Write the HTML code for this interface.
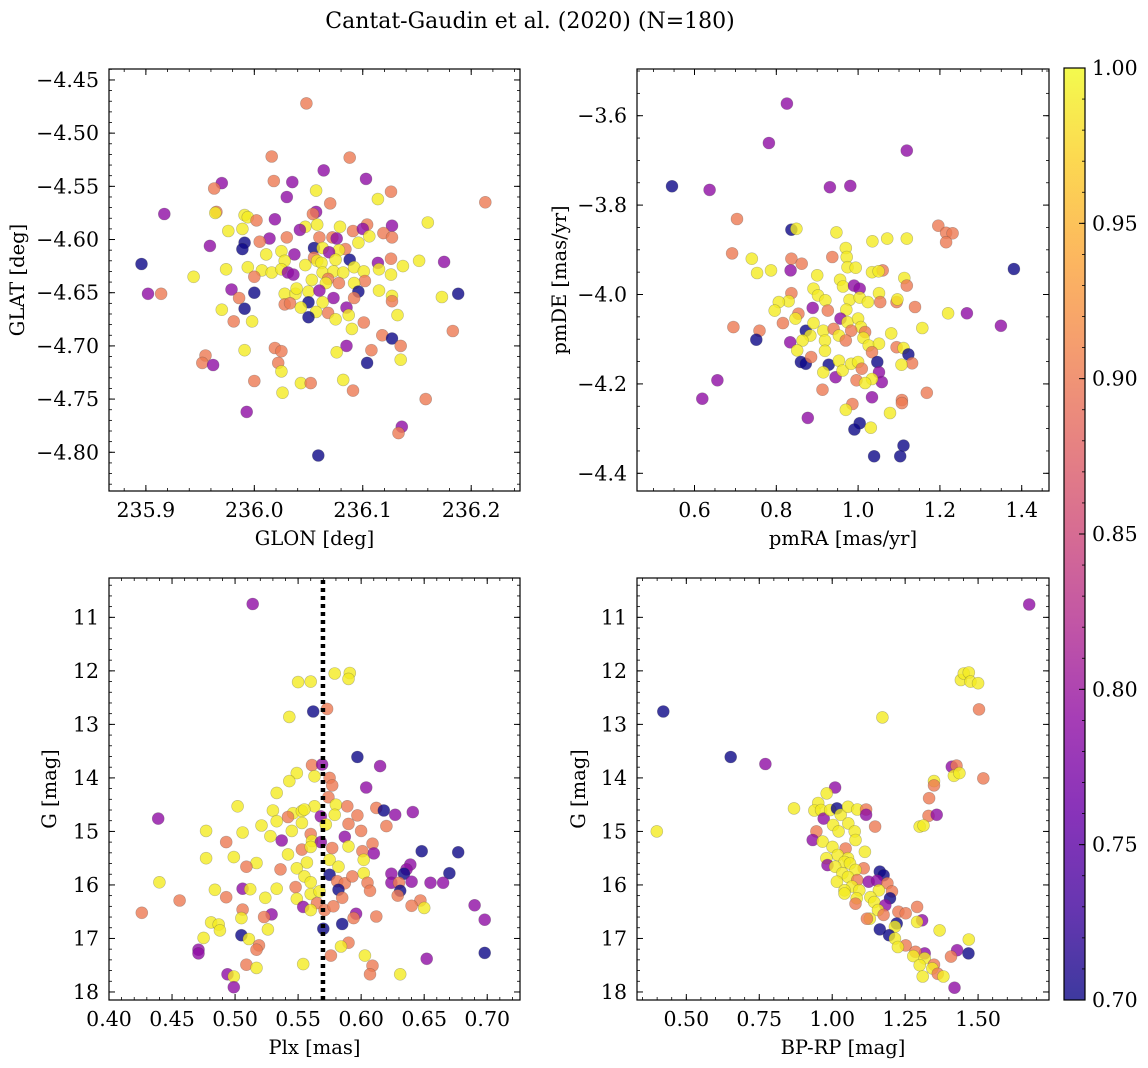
<!DOCTYPE html>
<html><head><meta charset="utf-8"><style>
body{margin:0;background:#fff;}
svg{display:block;font-family:"DejaVu Serif","Liberation Serif",serif;}
</style></head><body>
<svg id="fig" width="1148" height="1068" viewBox="0 0 1148 1068" xmlns="http://www.w3.org/2000/svg">
<defs>
<linearGradient id="cbgrad" x1="0" y1="1" x2="0" y2="0">
<stop offset="0" stop-color="#0d0887"/><stop offset="0.1" stop-color="#41049d"/><stop offset="0.2" stop-color="#6a00a8"/><stop offset="0.3" stop-color="#8f0da4"/><stop offset="0.4" stop-color="#b12a90"/><stop offset="0.5" stop-color="#cc4778"/><stop offset="0.6" stop-color="#e16462"/><stop offset="0.7" stop-color="#f2844b"/><stop offset="0.8" stop-color="#fca636"/><stop offset="0.9" stop-color="#fcce25"/><stop offset="1" stop-color="#f0f921"/>
</linearGradient>
</defs>
<text x="530" y="28" font-size="22" text-anchor="middle">Cantat-Gaudin et al. (2020) (N=180)</text>
</svg>
<script>
// ---- data: top-left (GLON / GLAT)
const tlLon=[236.048,236.016,236.088,236.064,236.103,236.018,236.035,235.970,235.963,236.057,236.126,236.114,236.030,236.070,236.213,235.965,235.964,235.917,236.057,236.054,235.991,235.994,236.019,236.002,236.160,236.047,236.058,236.127,235.976,235.989,236.042,236.104,236.091,236.100,236.079,236.119,236.127,236.106,236.096,236.014,236.005,236.030,236.060,236.072,236.076,235.991,235.989,235.959,236.055,236.063,236.084,236.078,236.025,236.011,236.037,236.069,236.055,236.028,236.058,236.075,236.088,236.114,236.126,236.152,236.175,235.896,235.944,235.974,235.994,236.007,236.016,236.025,236.031,236.036,236.047,236.062,236.063,236.073,236.082,236.092,236.101,236.115,236.126,236.137,236.000,236.068,236.078,236.102,236.053,236.066,236.092,235.979,236.000,235.902,235.914,236.028,236.038,236.039,236.050,236.060,236.096,236.115,236.127,236.173,236.188,235.986,236.073,236.092,236.127,236.028,236.033,236.050,236.063,235.991,235.970,236.043,236.085,236.057,236.068,236.087,236.132,236.050,236.075,235.981,235.998,236.101,236.090,236.183,236.118,236.127,236.135,236.085,236.019,236.025,236.108,235.991,236.076,235.955,235.952,235.962,236.022,236.104,236.135,236.025,236.000,236.082,236.043,236.052,236.091,236.026,236.158,235.993,236.136,236.133,236.059];
const tlLat=[-4.472,-4.522,-4.523,-4.535,-4.543,-4.545,-4.546,-4.547,-4.552,-4.554,-4.555,-4.562,-4.560,-4.566,-4.565,-4.574,-4.575,-4.576,-4.574,-4.576,-4.577,-4.579,-4.581,-4.582,-4.584,-4.588,-4.586,-4.587,-4.592,-4.590,-4.591,-4.586,-4.592,-4.590,-4.588,-4.594,-4.598,-4.597,-4.603,-4.599,-4.602,-4.598,-4.598,-4.598,-4.599,-4.603,-4.609,-4.606,-4.608,-4.608,-4.609,-4.610,-4.611,-4.614,-4.614,-4.612,-4.617,-4.620,-4.620,-4.619,-4.619,-4.622,-4.618,-4.620,-4.621,-4.623,-4.635,-4.628,-4.626,-4.629,-4.631,-4.628,-4.631,-4.633,-4.624,-4.622,-4.631,-4.630,-4.631,-4.626,-4.630,-4.628,-4.633,-4.625,-4.635,-4.637,-4.641,-4.639,-4.638,-4.641,-4.641,-4.647,-4.650,-4.651,-4.651,-4.651,-4.651,-4.646,-4.649,-4.648,-4.649,-4.648,-4.653,-4.654,-4.651,-4.655,-4.655,-4.655,-4.658,-4.661,-4.660,-4.659,-4.659,-4.665,-4.666,-4.664,-4.664,-4.668,-4.669,-4.671,-4.671,-4.673,-4.675,-4.677,-4.677,-4.678,-4.684,-4.686,-4.690,-4.693,-4.700,-4.700,-4.702,-4.705,-4.704,-4.704,-4.706,-4.709,-4.716,-4.718,-4.716,-4.716,-4.713,-4.724,-4.733,-4.732,-4.735,-4.735,-4.742,-4.744,-4.750,-4.762,-4.776,-4.782,-4.803];
const tlProb=[0.9,0.9,0.9,0.79,0.79,0.9,0.79,0.79,0.9,0.99,0.9,0.99,0.79,0.9,0.9,0.9,0.99,0.79,0.79,0.9,0.99,0.99,0.79,0.9,0.99,0.99,0.99,0.79,0.99,0.99,0.79,0.9,0.9,0.79,0.99,0.9,0.9,0.99,0.99,0.79,0.9,0.9,0.9,0.9,0.79,0.7,0.7,0.79,0.7,0.99,0.9,0.99,0.99,0.99,0.79,0.79,0.9,0.99,0.99,0.99,0.7,0.79,0.9,0.99,0.79,0.7,0.99,0.99,0.99,0.99,0.99,0.99,0.79,0.79,0.99,0.99,0.99,0.99,0.99,0.99,0.99,0.99,0.99,0.99,0.9,0.9,0.9,0.9,0.99,0.99,0.99,0.79,0.7,0.79,0.9,0.99,0.99,0.99,0.99,0.79,0.7,0.99,0.99,0.99,0.7,0.9,0.79,0.9,0.9,0.9,0.9,0.7,0.99,0.7,0.99,0.99,0.79,0.99,0.9,0.99,0.99,0.7,0.99,0.9,0.99,0.9,0.99,0.9,0.9,0.7,0.9,0.79,0.9,0.9,0.9,0.99,0.99,0.9,0.9,0.79,0.9,0.7,0.99,0.99,0.9,0.99,0.99,0.9,0.9,0.99,0.9,0.79,0.79,0.9,0.7];
// ---- data: top-right (pmRA / pmDE)
const trRa=[0.826,0.782,1.119,0.545,0.637,0.931,0.981,0.704,0.837,0.849,1.196,1.215,1.231,1.215,0.947,1.035,1.071,1.119,0.692,0.740,0.753,0.787,0.837,0.862,0.835,0.937,0.970,0.972,0.974,0.994,0.900,1.034,1.060,1.050,1.381,1.113,1.119,0.956,0.963,0.990,1.004,0.891,0.902,0.920,0.837,0.830,0.806,0.796,0.979,1.004,1.024,1.051,1.054,1.094,1.096,1.139,1.220,1.266,1.349,0.889,0.854,0.926,0.971,0.847,0.816,0.695,0.759,0.751,0.872,0.891,0.915,0.940,0.957,0.974,1.000,1.007,1.017,0.983,1.081,1.157,0.883,0.864,0.834,0.851,0.860,0.872,0.885,0.919,0.953,0.970,1.013,1.026,1.051,1.034,1.094,1.111,1.123,1.132,1.106,0.919,0.928,0.915,0.945,0.953,0.962,0.983,1.000,1.009,1.047,1.051,1.058,1.034,0.996,1.017,0.913,1.168,0.656,0.619,1.034,1.107,1.107,0.986,0.970,1.078,0.877,1.004,0.991,1.031,1.111,1.039,1.103];
const trDe=[-3.573,-3.661,-3.678,-3.758,-3.766,-3.760,-3.757,-3.831,-3.855,-3.853,-3.846,-3.862,-3.863,-3.883,-3.861,-3.881,-3.875,-3.875,-3.908,-3.920,-3.952,-3.946,-3.920,-3.931,-3.946,-3.916,-3.896,-3.916,-3.939,-3.940,-3.957,-3.950,-3.946,-3.948,-3.943,-3.963,-3.980,-3.967,-3.982,-3.980,-3.987,-3.987,-4.002,-4.013,-3.997,-4.015,-4.017,-4.036,-4.012,-4.007,-4.017,-3.997,-4.017,-4.017,-4.011,-4.028,-4.042,-4.042,-4.070,-4.030,-4.043,-4.036,-4.034,-4.054,-4.064,-4.073,-4.081,-4.101,-4.081,-4.064,-4.081,-4.077,-4.054,-4.062,-4.054,-4.073,-4.084,-4.081,-4.087,-4.075,-4.092,-4.103,-4.107,-4.125,-4.151,-4.155,-4.140,-4.103,-4.092,-4.103,-4.097,-4.114,-4.110,-4.129,-4.118,-4.120,-4.134,-4.154,-4.157,-4.126,-4.157,-4.174,-4.185,-4.148,-4.170,-4.155,-4.151,-4.166,-4.151,-4.174,-4.196,-4.189,-4.192,-4.198,-4.213,-4.220,-4.192,-4.233,-4.230,-4.236,-4.243,-4.245,-4.258,-4.265,-4.276,-4.288,-4.302,-4.298,-4.338,-4.362,-4.362];
const trProb=[0.79,0.79,0.79,0.7,0.79,0.79,0.79,0.9,0.7,0.99,0.9,0.9,0.9,0.9,0.99,0.99,0.99,0.99,0.9,0.99,0.99,0.99,0.9,0.9,0.79,0.9,0.99,0.99,0.99,0.99,0.99,0.99,0.9,0.99,0.7,0.99,0.9,0.99,0.99,0.79,0.79,0.99,0.99,0.99,0.9,0.99,0.99,0.99,0.99,0.99,0.99,0.99,0.9,0.9,0.99,0.9,0.99,0.79,0.79,0.79,0.9,0.9,0.99,0.99,0.9,0.9,0.9,0.7,0.7,0.99,0.99,0.9,0.79,0.99,0.99,0.99,0.9,0.9,0.99,0.99,0.99,0.99,0.79,0.99,0.7,0.7,0.9,0.99,0.99,0.9,0.99,0.99,0.99,0.9,0.9,0.99,0.7,0.9,0.99,0.99,0.7,0.99,0.79,0.99,0.99,0.99,0.99,0.9,0.7,0.79,0.79,0.99,0.9,0.99,0.9,0.9,0.79,0.79,0.79,0.9,0.9,0.9,0.99,0.99,0.79,0.7,0.7,0.99,0.7,0.7,0.7];
// ---- data: bottom-left (Plx / G)
const blPlx=[0.514,0.591,0.579,0.590,0.550,0.560,0.573,0.562,0.543,0.597,0.615,0.561,0.569,0.549,0.543,0.563,0.575,0.577,0.604,0.533,0.574,0.502,0.530,0.546,0.553,0.563,0.555,0.580,0.589,0.612,0.618,0.627,0.641,0.597,0.579,0.568,0.439,0.542,0.533,0.553,0.572,0.590,0.477,0.506,0.521,0.545,0.560,0.600,0.620,0.587,0.493,0.528,0.537,0.561,0.568,0.609,0.590,0.477,0.499,0.517,0.542,0.553,0.560,0.577,0.601,0.610,0.602,0.575,0.509,0.557,0.549,0.536,0.582,0.639,0.636,0.575,0.602,0.624,0.634,0.670,0.648,0.677,0.548,0.555,0.560,0.581,0.587,0.593,0.582,0.605,0.607,0.624,0.630,0.640,0.655,0.665,0.631,0.629,0.440,0.506,0.512,0.484,0.493,0.533,0.524,0.560,0.567,0.585,0.549,0.456,0.647,0.650,0.640,0.690,0.565,0.571,0.554,0.560,0.578,0.426,0.506,0.505,0.529,0.523,0.596,0.594,0.612,0.698,0.481,0.487,0.488,0.526,0.585,0.570,0.505,0.475,0.511,0.519,0.517,0.590,0.584,0.471,0.471,0.698,0.576,0.603,0.652,0.509,0.517,0.554,0.609,0.607,0.631,0.494,0.499,0.499];
const blG=[10.75,12.04,12.05,12.15,12.21,12.20,12.71,12.76,12.86,13.61,13.78,13.76,13.75,13.91,14.06,13.97,14.00,14.14,14.18,14.28,14.36,14.53,14.61,14.66,14.62,14.53,14.59,14.50,14.53,14.56,14.61,14.69,14.64,14.70,14.69,14.72,14.76,14.73,14.81,14.84,14.87,14.86,14.99,15.02,14.89,14.99,15.05,14.99,14.90,15.10,15.20,15.09,15.17,15.18,15.20,15.23,15.28,15.50,15.48,15.59,15.43,15.34,15.29,15.31,15.37,15.41,15.53,15.53,15.66,15.58,15.69,15.71,15.66,15.62,15.71,15.81,15.78,15.79,15.79,15.78,15.37,15.39,16.04,15.84,15.95,15.93,15.97,15.84,16.09,15.96,16.11,15.96,15.96,15.94,15.96,15.96,16.11,16.20,15.95,16.07,16.08,16.09,16.23,16.07,16.24,16.17,16.12,16.24,16.26,16.29,16.29,16.43,16.39,16.38,16.34,16.47,16.41,16.47,16.40,16.52,16.46,16.62,16.55,16.60,16.54,16.62,16.59,16.65,16.70,16.74,16.85,16.83,16.73,16.82,16.94,16.99,17.01,17.13,17.21,17.08,17.15,17.21,17.28,17.27,17.32,17.32,17.38,17.49,17.55,17.48,17.51,17.67,17.67,17.67,17.71,17.91];
const blProb=[0.79,0.99,0.99,0.99,0.99,0.99,0.9,0.7,0.99,0.7,0.79,0.9,0.79,0.99,0.99,0.99,0.9,0.9,0.79,0.99,0.9,0.99,0.99,0.99,0.99,0.99,0.99,0.99,0.9,0.9,0.7,0.79,0.79,0.9,0.99,0.79,0.79,0.9,0.99,0.99,0.99,0.9,0.99,0.99,0.99,0.99,0.9,0.9,0.9,0.79,0.9,0.99,0.79,0.99,0.79,0.9,0.99,0.99,0.99,0.99,0.99,0.9,0.99,0.9,0.9,0.79,0.99,0.99,0.9,0.99,0.99,0.9,0.99,0.79,0.79,0.7,0.99,0.79,0.7,0.7,0.7,0.7,0.9,0.99,0.99,0.9,0.9,0.9,0.7,0.9,0.9,0.79,0.9,0.79,0.79,0.79,0.7,0.9,0.99,0.79,0.99,0.99,0.9,0.99,0.99,0.99,0.99,0.9,0.99,0.9,0.9,0.99,0.9,0.79,0.9,0.9,0.79,0.99,0.9,0.9,0.9,0.99,0.79,0.9,0.79,0.9,0.9,0.79,0.99,0.99,0.99,0.99,0.7,0.7,0.7,0.99,0.99,0.9,0.9,0.9,0.99,0.79,0.79,0.7,0.9,0.99,0.79,0.9,0.99,0.99,0.9,0.9,0.99,0.79,0.99,0.79];
// ---- data: bottom-right (BP-RP / G)
const brBp=[1.675,1.441,1.451,1.468,1.474,1.500,1.503,1.172,0.421,0.652,0.771,1.410,1.426,1.417,1.436,1.518,1.349,1.349,1.332,1.330,1.358,1.300,1.313,0.399,0.869,1.010,0.981,0.952,0.939,0.962,0.971,0.993,1.016,1.029,1.054,1.086,1.116,1.116,1.147,1.003,1.055,1.022,1.077,0.946,0.933,0.967,1.080,1.001,1.046,1.019,1.112,0.980,1.054,1.042,1.061,0.984,1.010,1.108,1.080,1.035,1.163,1.176,1.016,1.054,1.086,1.068,1.125,1.154,1.189,1.042,1.093,1.160,1.205,1.198,1.042,1.084,1.131,1.080,1.144,1.182,1.291,1.157,1.227,1.252,1.176,1.129,1.119,1.308,1.291,1.221,1.215,1.163,1.195,1.368,1.215,1.468,1.252,1.225,1.317,1.285,1.428,1.467,1.407,1.278,1.317,1.300,1.349,1.343,1.362,1.381,1.310,1.419];
const brG=[10.76,12.17,12.05,12.03,12.20,12.23,12.72,12.87,12.76,13.61,13.74,13.79,13.77,13.96,13.91,14.01,14.06,14.14,14.38,14.71,14.69,14.91,14.89,15.00,14.57,14.18,14.29,14.47,14.61,14.60,14.76,14.60,14.57,14.69,14.54,14.59,14.59,14.69,14.91,14.88,14.85,15.00,15.00,15.00,15.16,15.19,15.16,15.29,15.32,15.44,15.38,15.50,15.50,15.57,15.60,15.63,15.66,15.69,15.72,15.78,15.75,15.82,15.94,15.85,15.91,16.03,15.94,15.92,15.97,16.10,16.10,16.10,16.12,16.25,16.16,16.25,16.23,16.35,16.32,16.38,16.41,16.47,16.50,16.53,16.56,16.63,16.63,16.66,16.69,16.72,16.78,16.83,16.94,16.85,17.00,17.02,17.13,17.16,17.28,17.25,17.22,17.28,17.34,17.33,17.37,17.50,17.49,17.56,17.66,17.71,17.71,17.92];
const brProb=[0.79,0.99,0.99,0.99,0.99,0.99,0.9,0.99,0.7,0.7,0.79,0.79,0.9,0.99,0.99,0.9,0.99,0.9,0.9,0.9,0.79,0.99,0.99,0.99,0.99,0.79,0.99,0.99,0.99,0.99,0.79,0.99,0.7,0.99,0.99,0.99,0.9,0.79,0.9,0.99,0.99,0.99,0.99,0.9,0.79,0.99,0.99,0.99,0.9,0.99,0.99,0.99,0.99,0.99,0.99,0.79,0.99,0.9,0.99,0.99,0.7,0.7,0.99,0.99,0.9,0.99,0.79,0.79,0.9,0.99,0.99,0.99,0.9,0.7,0.99,0.99,0.99,0.9,0.99,0.79,0.9,0.99,0.9,0.9,0.9,0.99,0.9,0.79,0.99,0.7,0.99,0.7,0.7,0.99,0.99,0.99,0.9,0.99,0.79,0.9,0.79,0.7,0.9,0.99,0.99,0.99,0.9,0.99,0.9,0.99,0.99,0.79];
// ---- tick labels
const tlXTicks=[235.9,236.0,236.1,236.2];
const tlYTicks=[-4.45,-4.50,-4.55,-4.60,-4.65,-4.70,-4.75,-4.80];
const trXTicks=[0.6,0.8,1.0,1.2,1.4];
const trYTicks=[-3.6,-3.8,-4.0,-4.2,-4.4];
const blXTicks=[0.40,0.45,0.50,0.55,0.60,0.65,0.70];
const gTicks=[11,12,13,14,15,16,17,18];
const brXTicks=[0.50,0.75,1.00,1.25,1.50];
const cbTicks=[0.70,0.75,0.80,0.85,0.90,0.95,1.00];
const plxMedian=[0.5697];

const NS="http://www.w3.org/2000/svg";
const svg=document.getElementById('fig');
function mk(tag,attrs,parent){const e=document.createElementNS(NS,tag);for(const k in attrs)e.setAttribute(k,attrs[k]);(parent||svg).appendChild(e);return e;}
const stops=[[13,8,135],[65,4,157],[106,0,168],[143,13,164],[177,42,144],[204,71,120],[225,100,98],[242,132,75],[252,166,54],[252,206,37],[240,249,33]];
function plasma(v){let t=Math.max(0,Math.min(1,(v-0.7)/0.3))*10;const i=Math.min(9,Math.floor(t));const f=t-i;const a=stops[i],b=stops[i+1];return 'rgb('+a.map((c,j)=>Math.round(c+(b[j]-c)*f)).join(',')+')';}
const fmtMinus=s=>s.replace('-','\u2212');
const FS=20.5;
const LFS=19.5;

function panel(p){
  const g=mk('g',{});
  
  
  const sx=v=>p.x0+(v-p.xmin)/(p.xmax-p.xmin)*(p.x1-p.x0);
  const sy=v=>p.inv? p.y0+(v-p.ymin)/(p.ymax-p.ymin)*(p.y1-p.y0) : p.y1-(v-p.ymin)/(p.ymax-p.ymin)*(p.y1-p.y0);
  const pg=mk('g',{},g);
  
  
  for(let i=0;i<p.xs.length;i++){
    const c=mk('circle',{cx:sx(p.xs[i]).toFixed(1),cy:sy(p.ys[i]).toFixed(1),r:6,fill:plasma(p.cs[i]),'fill-opacity':0.8,stroke:'#444','stroke-opacity':0.35,'stroke-width':0.6},pg);
    
    
  }
  if(p.extra)p.extra(g,sx,sy);
  const fr=mk('rect',{x:p.x0,y:p.y0,width:p.x1-p.x0,height:p.y1-p.y0,fill:'none',stroke:'#000','stroke-width':1.2},g);
  
  
  const minor=(a,b,st)=>{const r=[];const n0=Math.ceil(a/st-1e-6),n1=Math.floor(b/st+1e-6);for(let n=n0;n<=n1;n++)r.push(n*st);return r;};
  minor(p.xmin,p.xmax,p.xminor).forEach(v=>{const x=sx(v);mk('line',{x1:x,x2:x,y1:p.y1,y2:p.y1-3,stroke:'#000','stroke-width':0.8},g);mk('line',{x1:x,x2:x,y1:p.y0,y2:p.y0+3,stroke:'#000','stroke-width':0.8},g);});
  minor(p.ymin,p.ymax,p.yminor).forEach(v=>{const y=sy(v);mk('line',{x1:p.x0,x2:p.x0+3,y1:y,y2:y,stroke:'#000','stroke-width':0.8},g);mk('line',{x1:p.x1,x2:p.x1-3,y1:y,y2:y,stroke:'#000','stroke-width':0.8},g);});
  p.xt.forEach(v=>{const x=sx(v);mk('line',{x1:x,x2:x,y1:p.y1,y2:p.y1-6,stroke:'#000','stroke-width':1},g);mk('line',{x1:x,x2:x,y1:p.y0,y2:p.y0+6,stroke:'#000','stroke-width':1},g);
    const t=mk('text',{x:x,y:p.y1+26,'font-size':FS,'text-anchor':'middle'},g);t.textContent=fmtMinus(v.toFixed(p.xd));
    
    });
  p.yt.forEach(v=>{const y=sy(v);mk('line',{x1:p.x0,x2:p.x0+6,y1:y,y2:y,stroke:'#000','stroke-width':1},g);mk('line',{x1:p.x1,x2:p.x1-6,y1:y,y2:y,stroke:'#000','stroke-width':1},g);
    const t=mk('text',{x:p.x0-10,y:y+7,'font-size':FS,'text-anchor':'end'},g);t.textContent=fmtMinus(v.toFixed(p.yd));
    
    });
  const xl=mk('text',{x:(p.x0+p.x1)/2,y:p.y1+54,'font-size':LFS,'text-anchor':'middle'},g);xl.textContent=p.xlabel;
  
  
  const yl=mk('text',{x:0,y:0,'font-size':LFS,'text-anchor':'middle',transform:'translate('+p.ylx+','+((p.y0+p.y1)/2)+') rotate(-90)'},g);yl.textContent=p.ylabel;
  
  
}

panel({name:'glon-glat-panel',x0:109,x1:520,y0:69,y1:491,xmin:235.866,xmax:236.245,ymin:-4.8364,ymax:-4.4397,xs:tlLon,ys:tlLat,cs:tlProb,xt:tlXTicks,yt:tlYTicks,xd:1,yd:2,xminor:0.02,yminor:0.01,xlabel:'GLON [deg]',ylabel:'GLAT [deg]',ylx:24});
panel({name:'pm-panel',x0:637,x1:1049,y0:69,y1:491,xmin:0.4594,xmax:1.4667,ymin:-4.4396,ymax:-3.4955,xs:trRa,ys:trDe,cs:trProb,xt:trXTicks,yt:trYTicks,xd:1,yd:1,xminor:0.05,yminor:0.05,xlabel:'pmRA [mas/yr]',ylabel:'pmDE [mas/yr]',ylx:566});
panel({name:'plx-g-panel',x0:109,x1:520,y0:578,y1:1000,xmin:0.4,xmax:0.726,ymin:10.265,ymax:18.15,inv:true,xs:blPlx,ys:blG,cs:blProb,xt:blXTicks,yt:gTicks,xd:2,yd:0,xminor:0.01,yminor:0.2,xlabel:'Plx [mas]',ylabel:'G [mag]',ylx:56,
  extra:(g,sx,sy)=>{plxMedian.forEach(v=>{const l=mk('line',{x1:sx(v),x2:sx(v),y1:580,y2:1000,stroke:'#000','stroke-width':4.5,'stroke-dasharray':'4 4'},g);
    
    });}});
panel({name:'cmd-panel',x0:637,x1:1049,y0:578,y1:1000,xmin:0.331,xmax:1.743,ymin:10.265,ymax:18.15,inv:true,xs:brBp,ys:brG,cs:brProb,xt:brXTicks,yt:gTicks,xd:2,yd:0,xminor:0.05,yminor:0.2,xlabel:'BP-RP [mag]',ylabel:'G [mag]',ylx:585});

const cb=mk('g',{});


mk('rect',{x:1064,y:68,width:21,height:932,fill:'url(#cbgrad)','fill-opacity':0.8},cb);
mk('rect',{x:1064,y:68,width:21,height:932,fill:'none',stroke:'#000','stroke-width':1.2},cb);
const cy=v=>1000-(v-0.7)/0.3*932;
for(let k=0;k<=30;k++){const y=cy(0.7+k*0.01);mk('line',{x1:1085,x2:1082,y1:y,y2:y,stroke:'#000','stroke-width':0.8},cb);}
cbTicks.forEach(v=>{const y=cy(v);mk('line',{x1:1085,x2:1079,y1:y,y2:y,stroke:'#000','stroke-width':1},cb);
  const t=mk('text',{x:1092,y:y+7,'font-size':FS},cb);t.textContent=v.toFixed(2);
  
  });
</script>
</body></html>
